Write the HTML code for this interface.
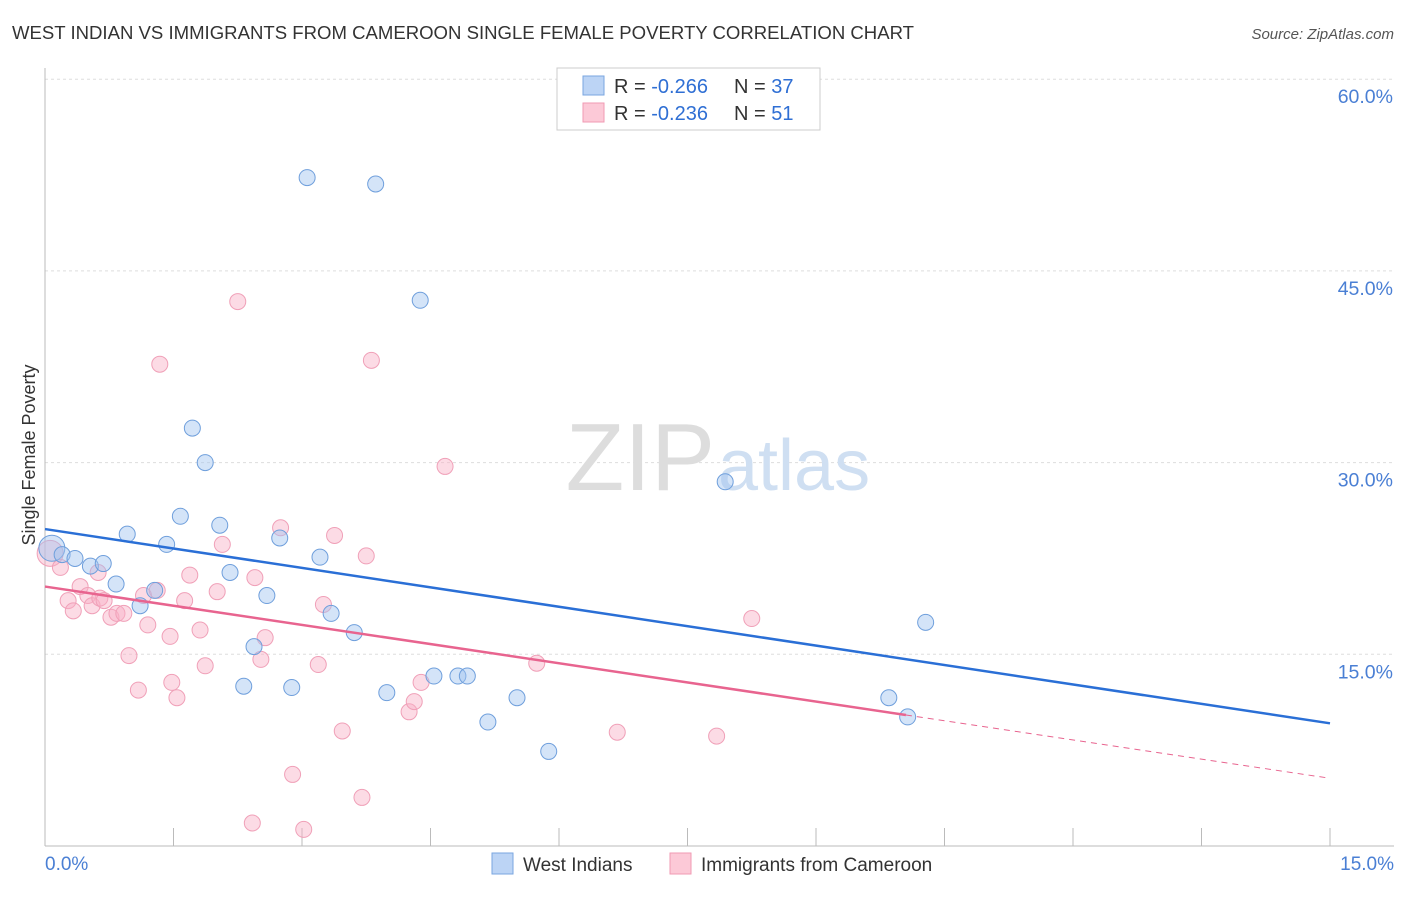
<!DOCTYPE html>
<html><head><meta charset="utf-8"><style>
body{margin:0;background:#fff;font-family:"Liberation Sans",sans-serif}
svg text{font-family:"Liberation Sans",sans-serif}
</style></head><body>
<svg id="c" width="1406" height="892" xmlns="http://www.w3.org/2000/svg">
<text x="12" y="39" font-size="18" fill="#333" textLength="902" lengthAdjust="spacingAndGlyphs">WEST INDIAN VS IMMIGRANTS FROM CAMEROON SINGLE FEMALE POVERTY CORRELATION CHART</text>
<text x="1394" y="39" font-size="15" fill="#555" font-style="italic" text-anchor="end">Source: ZipAtlas.com</text>
<text x="35" y="455" font-size="18" fill="#333" text-anchor="middle" transform="rotate(-90 35 455)">Single Female Poverty</text>
<g id="grid"></g>
<g id="axes"></g>
<text x="715" y="490" font-size="96" fill="#ddd" font-family="Liberation Serif" text-anchor="end">ZIP</text>
<text x="718" y="490" font-size="72" fill="#cfdff2">atlas</text>
<g id="pts"></g>
<g id="lines"></g>
<g>
<rect x="557" y="68" width="263" height="62" fill="#fff" stroke="#ccc"/>
<rect x="583" y="76" width="21" height="19" fill="#bcd4f5" stroke="#7aa6e0"/>
<rect x="583" y="103" width="21" height="19" fill="#fcc9d7" stroke="#f09ab3"/>
<text x="614" y="93" font-size="20" fill="#333">R = <tspan fill="#2f6fd4">-0.266</tspan></text>
<text x="734" y="93" font-size="20" fill="#333">N = <tspan fill="#2f6fd4">37</tspan></text>
<text x="614" y="120" font-size="20" fill="#333">R = <tspan fill="#2f6fd4">-0.236</tspan></text>
<text x="734" y="120" font-size="20" fill="#333">N = <tspan fill="#2f6fd4">51</tspan></text>
</g>
<g>
<rect x="492" y="853" width="21" height="21" fill="#bcd4f5" stroke="#7aa6e0"/>
<text x="523" y="871" font-size="19" fill="#333">West Indians</text>
<rect x="670" y="853" width="21" height="21" fill="#fcc9d7" stroke="#f09ab3"/>
<text x="701" y="871" font-size="19" fill="#333">Immigrants from Cameroon</text>
</g>
</svg>
<script>
const yTicks=[15,30,45,60];
const xTickLabels=["0.0%","15.0%"];
const blueX=[0.08,0.2,0.35,0.53,0.68,0.83,0.96,1.11,1.28,1.42,1.58,1.72,1.87,2.04,2.16,2.32,2.44,2.59,2.74,2.88,3.06,3.21,3.34,3.61,3.86,3.99,4.38,4.54,4.82,4.93,5.17,5.51,5.88,7.94,9.85,10.07,10.28];
const blueY=[23.3,22.8,22.5,21.9,22.1,20.5,24.4,18.8,20.0,23.6,25.8,32.7,30.0,25.1,21.4,12.5,15.6,19.6,24.1,12.4,52.3,22.6,18.2,16.7,51.8,12.0,42.7,13.3,13.3,13.3,9.7,11.6,7.4,28.5,11.6,10.1,17.5];
const pinkX=[0.06,0.18,0.27,0.33,0.41,0.5,0.55,0.62,0.64,0.69,0.77,0.84,0.92,0.98,1.09,1.15,1.2,1.31,1.34,1.46,1.48,1.54,1.63,1.69,1.81,1.87,2.01,2.07,2.25,2.42,2.45,2.52,2.57,2.75,2.89,3.02,3.19,3.25,3.38,3.47,3.7,3.75,3.81,4.25,4.31,4.39,4.67,5.74,6.68,7.84,8.25];
const pinkY=[22.9,21.8,19.2,18.4,20.3,19.6,18.8,21.4,19.4,19.2,17.9,18.2,18.2,14.9,12.2,19.6,17.3,20.0,37.7,16.4,12.8,11.6,19.2,21.2,16.9,14.1,19.9,23.6,42.6,1.8,21.0,14.6,16.3,24.9,5.6,1.3,14.2,18.9,24.3,9.0,3.8,22.7,38.0,10.5,11.3,12.8,29.7,14.3,8.9,8.6,17.8];
const blueTrend=[24.8,9.6];
const pinkTrend=[20.3,5.3];
const pinkSolidEnd=10.05;
const NS="http://www.w3.org/2000/svg";
const X=v=>45+v*(1285/15);
const Y=v=>846-v*12.78;
function mk(p,t,a){const e=document.createElementNS(NS,t);for(const k in a)e.setAttribute(k,a[k]);p.appendChild(e);return e;}
const grid=document.getElementById('grid'),axes=document.getElementById('axes');
yTicks.forEach(t=>{
 const l=mk(grid,'line',{x1:45,x2:1394,y1:Y(t),y2:Y(t),stroke:'#ddd','stroke-dasharray':'3,3'});
 
 
 const tx=mk(grid,'text',{x:1393,y:Y(t)+24,'font-size':19.5,fill:'#4a7fd4','text-anchor':'end'});
 tx.textContent=t.toFixed(1)+'%';
 
 
});
mk(axes,'line',{x1:45,x2:45,y1:68,y2:846,stroke:'#bbb'});
mk(axes,'line',{x1:45,x2:1394,y1:846,y2:846,stroke:'#bbb'});
for(let i=1;i<=10;i++){const x=X(i*1.5);mk(axes,'line',{x1:x,x2:x,y1:828,y2:846,stroke:'#bbb'});}
const xl1=mk(axes,'text',{x:45,y:870,'font-size':19,fill:'#4a7fd4'});xl1.textContent=xTickLabels[0];


const xl2=mk(axes,'text',{x:1394,y:870,'font-size':19,fill:'#4a7fd4','text-anchor':'end'});xl2.textContent=xTickLabels[1];


const pts=document.getElementById('pts');
pinkX.forEach((x,i)=>{const c=mk(pts,'circle',{cx:X(x),cy:Y(pinkY[i]),r:i==0?13:8,fill:'rgba(248,176,198,0.45)',stroke:'#f0a0b8','stroke-width':1});
 
 });
blueX.forEach((x,i)=>{const c=mk(pts,'circle',{cx:X(x),cy:Y(blueY[i]),r:i==0?13:8,fill:'rgba(160,195,240,0.45)',stroke:'#6f9fdc','stroke-width':1});
 
 });
const lines=document.getElementById('lines');
const bl=mk(lines,'line',{x1:X(0),y1:Y(blueTrend[0]),x2:X(15),y2:Y(blueTrend[1]),stroke:'#2a6fd6','stroke-width':2.5});


const pe=pinkTrend[0]+(pinkTrend[1]-pinkTrend[0])*pinkSolidEnd/15;
const pl=mk(lines,'line',{x1:X(0),y1:Y(pinkTrend[0]),x2:X(pinkSolidEnd),y2:Y(pe),stroke:'#e8648f','stroke-width':2.5});


const pd=mk(lines,'line',{x1:X(pinkSolidEnd),y1:Y(pe),x2:X(15),y2:Y(pinkTrend[1]),stroke:'#e8648f','stroke-width':1,'stroke-dasharray':'6,5'});


</script>
</body></html>
